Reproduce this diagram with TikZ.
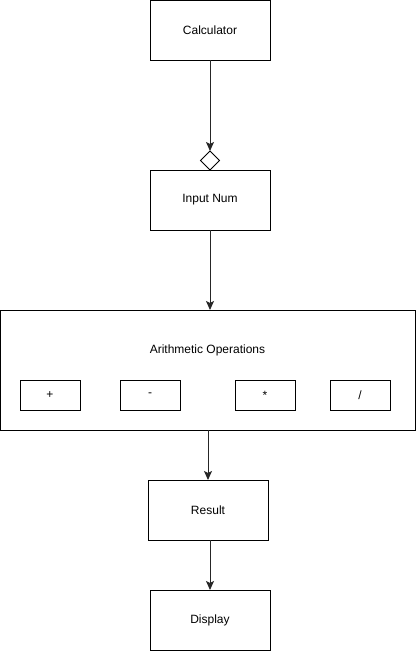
\documentclass[tikz,border=0pt]{standalone}
\usepackage{fontspec}
\setmainfont{Liberation Sans}
\usepackage{tikz}
\usetikzlibrary{calc,arrows.meta,positioning,shapes.geometric}

\tikzset{
  block/.style={draw, line width=1pt, minimum width=120pt, minimum height=60pt, inner sep=0pt, outer sep=0pt, font=\fontsize{12}{14}\selectfont},
  opbox/.style={draw, line width=1pt, minimum width=60pt, minimum height=30pt, inner sep=0pt, outer sep=0pt, font=\fontsize{12}{14}\selectfont},
  link/.style={-{Stealth[length=9pt,width=8pt,inset=2pt]}, line width=1pt, draw=black!85}
}

\begin{document}
\begin{tikzpicture}[node distance=50pt, auto]
	\useasboundingbox (0pt,0pt) rectangle (416pt,-651pt);
	\node[block] (Calc) at (210pt,-30pt) {Calculator};
	\node[block] (Input) at (210pt,-200pt) {Input Num};
	\node[draw, diamond, line width=1pt, fill=white, minimum size=19pt, inner sep=0pt, outer sep=0pt, above=0pt of Input] (Join) {};
	\node[block, minimum width=415pt, minimum height=120pt] (Arith) at (207.5pt,-370pt) {};
	\node[font=\fontsize{12}{14}\selectfont] (ArithLabel) at (207.5pt,-350pt) {Arithmetic Operations};
	\node[opbox] (Plus) at (50pt,-395pt) {+};
	\node[opbox] (Minus) at (150pt,-395pt) {-};
	\node[opbox] (Times) at (265pt,-395pt) {*};
	\node[opbox] (Divide) at (360pt,-395pt) {/};
	\node[block] (Result) at (208pt,-510pt) {Result};
	\node[block] (Display) at (210pt,-620pt) {Display};

	\draw[link] (Calc) -- (Join);
	\draw[link] (Input.south) -- (Input.south |- Arith.north);
	\draw[link] (Result.north |- Arith.south) -- (Result.north);
	\draw[link] (Display.north |- Result.south) -- (Display.north);
\end{tikzpicture}
\end{document}
